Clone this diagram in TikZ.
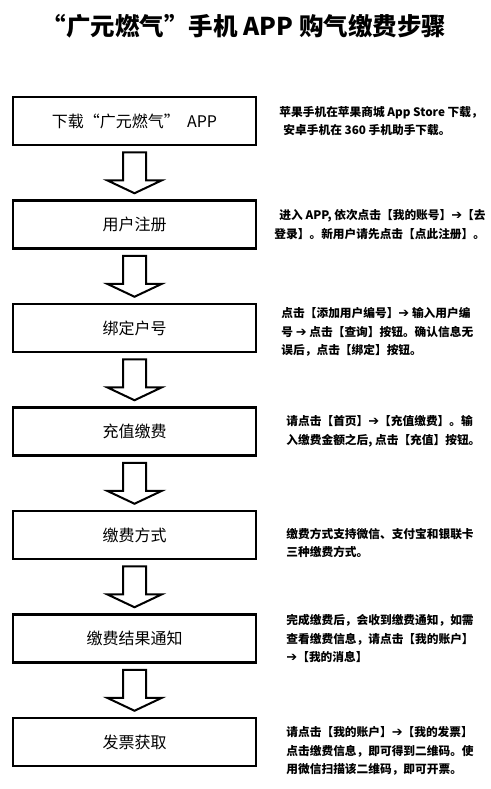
\documentclass[tikz,border=0pt]{standalone}
\usepackage{fontspec}
\setmainfont{Noto Sans CJK SC}
\newfontfamily\arrfont{DejaVu Sans}
\usetikzlibrary{positioning,calc}
\tikzset{
  stepbox/.style={draw=black,line width=2.5pt,minimum width=243pt,
                  minimum height=48pt,inner sep=0pt,
                  font=\fontsize{16}{18}\selectfont},
  note/.style={align=left,inner sep=0pt,
               font=\bfseries\fontsize{11.7}{18.5}\selectfont},
  downarr/.style={draw=black,line width=2pt,line join=miter}
}
\newcommand{\goarr}{{\arrfont\bfseries\fontsize{13}{13}\selectfont ➔}}

\begin{document}
\begin{tikzpicture}[x=1pt,y=-1pt]
  \useasboundingbox[fill=white] (0,0) rectangle (490,789);
  \node[font=\bfseries\fontsize{24.5}{28}\selectfont] (title) at (244,26)
    {“广元燃气”手机 APP 购气缴费步骤};
  % steps on the left
  \node[stepbox] (b1) at (134.5,121) {下载“广元燃气”\ \ APP};
  \node[stepbox] (b2) at (134.5,224.5) {用户注册};
  \node[stepbox] (b3) at (134.5,328) {绑定户号};
  \node[stepbox] (b4) at (134.5,431.5) {充值缴费};
  \node[stepbox] (b5) at (134.5,535) {缴费方式};
  \node[stepbox] (b6) at (134.5,638.5) {缴费结果通知};
  \node[stepbox] (b7) at (134.5,742) {发票获取};
  % hollow arrows between steps
  \foreach \i/\j in {1/2,2/3,3/4,4/5,5/6,6/7}{
    \coordinate (m\i) at ($(b\i.south)!0.5!(b\j.north)$);
    \draw[downarr] ($(m\i)+(-11.5,-20.5)$) -- ($(m\i)+(-11.5,7.5)$)
      -- ($(m\i)+(-27.5,7.5)$) -- ($(m\i)+(0,20.5)$)
      -- ($(m\i)+(27.5,7.5)$) -- ($(m\i)+(11.5,7.5)$)
      -- ($(m\i)+(11.5,-20.5)$) -- cycle;
  }
  % notes on the right
  \node[note,right=22pt of b1] (n1)
    {苹果手机在苹果商城 App Store 下载，\\\hspace{4pt}安卓手机在 360 手机助手下载。};
  \node[note,right=17pt of b2] (n2)
    {\hspace{5pt}进入 APP, 依次点击【我的账号】\goarr【去\\登录】。新用户请先点击【点此注册】。};
  \node[note,right=24pt of b3,yshift=-4pt] (n3)
    {点击【添加用户编号】\goarr\ 输入用户编\\号 \goarr\ 点击【查询】按钮。确认信息无\\误后，点击【绑定】按钮。};
  \node[note,right=29pt of b4] (n4)
    {请点击【首页】\goarr【充值缴费】。输\\入缴费金额之后, 点击【充值】按钮。};
  \node[note,right=29pt of b5,yshift=-8pt] (n5)
    {缴费方式支持微信、支付宝和银联卡\\三种缴费方式。};
  \node[note,right=29pt of b6] (n6)
    {完成缴费后，会收到缴费通知，如需\\查看缴费信息，请点击【我的账户】\\\goarr【我的消息】};
  \node[note,right=29pt of b7,yshift=-9pt] (n7)
    {请点击【我的账户】\goarr【我的发票】\\点击缴费信息，即可得到二维码。使\\用微信扫描该二维码，即可开票。};
\end{tikzpicture}
\end{document}
